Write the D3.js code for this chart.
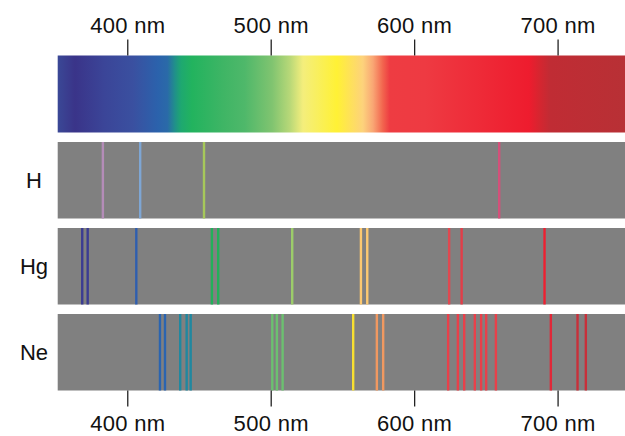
<!DOCTYPE html>
<html>
<head>
<meta charset="utf-8">
<script src="https://cdn.jsdelivr.net/npm/d3@7"></script>
<style>
  html, body { margin: 0; padding: 0; background: #fff; }
  svg { display: block; }
  text { font-family: "Liberation Sans", Arial, sans-serif; }
</style>
</head>
<body>
<svg id="chart" width="625" height="436"></svg>
<script>
// ---- data ----
const tickValues = [400, 500, 600, 700];
const tickLabels = ["400 nm", "500 nm", "600 nm", "700 nm"];
const domainNm = [351.5, 747];

// continuous spectrum colour stops (wavelength, colour)
const spectrumNm = [351.5, 363.5, 384, 404, 421.4, 428, 433.2, 437.5, 445.1, 467, 482, 501, 513.4, 522.5, 546.2, 564.3, 571.3, 578.2, 583, 607.5, 680, 688, 695, 747];
const spectrumColors = ["#3a4896", "#3a3489", "#3b4598", "#3a50a0", "#2b62ac", "#2a6aa8", "#20908a", "#1ea870", "#22b35e", "#3fb565", "#4fb86a", "#80c470", "#b8d878", "#f4ee7c", "#fff135", "#fdd27c", "#f9a674", "#f2644e", "#ee3c42", "#ee3a42", "#ee1c2e", "#d42630", "#c02c34", "#b83035"];

const elements = ["H", "Hg", "Ne"];

const hLines = [383, 409, 453.5, 659.3];
const hColors = ["#b48cb8", "#7ea6d4", "#a6c85a", "#d4507a"];

const hgLines = [368.6, 372.4, 406.3, 459.0, 463.4, 515.0, 562.9, 567.3, 624.4, 633.1, 690.9];
const hgColors = ["#3b3c92", "#3b3c92", "#2f5eae", "#22b05a", "#22b05a", "#9ccc6a", "#fcc870", "#fcc870", "#e04850", "#e23e48", "#ee2030"];

const neLines = [422.8, 426.3, 436.9, 441.4, 444.2, 501.1, 504.3, 508.3, 557.5, 574.0, 578.4, 623.7, 630.5, 634.9, 642.3, 646.7, 650.2, 657.0, 695.3, 713.9, 719.7];
const neColors = ["#2a64b0", "#2a64b0", "#2088a0", "#2088a0", "#2088a0", "#6cc070", "#6cc070", "#6cc070", "#f8e030", "#f09860", "#f09860", "#e8404a", "#e8404a", "#e8404a", "#e8404a", "#e8404a", "#e8404a", "#e8404a", "#e02838", "#c8303a", "#c8303a"];

const lineSets = [
  { lines: hLines, colors: hColors },
  { lines: hgLines, colors: hgColors },
  { lines: neLines, colors: neColors }
];

// ---- layout ----
const svg = d3.select("#chart");
const x = d3.scaleLinear().domain(domainNm).range([57.7, 625]);

const barTop = 55.5, barH = 77;
const rowTops = [142, 228, 314];
const rowH = 76.5;

// gradient
const defs = svg.append("defs");
const grad = defs.append("linearGradient")
  .attr("id", "spec")
  .attr("gradientUnits", "userSpaceOnUse")
  .attr("x1", x(domainNm[0])).attr("x2", x(domainNm[1]))
  .attr("y1", 0).attr("y2", 0);
const span = x(domainNm[1]) - x(domainNm[0]);
grad.selectAll("stop")
  .data(spectrumNm)
  .join("stop")
  .attr("offset", d => (x(d) - x(domainNm[0])) / span)
  .attr("stop-color", (d, i) => spectrumColors[i]);

svg.append("rect")
  .attr("x", x(domainNm[0]))
  .attr("y", barTop)
  .attr("width", span)
  .attr("height", barH)
  .attr("fill", "url(#spec)");

// element rows
const rows = svg.selectAll("g.row")
  .data(elements)
  .join("g")
  .attr("class", "row")
  .attr("transform", (d, i) => `translate(0,${rowTops[i]})`);

rows.append("rect")
  .attr("x", x(domainNm[0]))
  .attr("y", 0)
  .attr("width", span)
  .attr("height", rowH)
  .attr("fill", "#808080");

rows.each(function(d, i) {
  const set = lineSets[i];
  d3.select(this).selectAll("line.em")
    .data(set.lines)
    .join("line")
    .attr("class", "em")
    .attr("x1", v => x(v)).attr("x2", v => x(v))
    .attr("y1", 0).attr("y2", rowH)
    .attr("stroke", (v, j) => set.colors[j])
    .attr("stroke-width", 2.4);
});

rows.append("text")
  .attr("x", 34)
  .attr("y", rowH / 2)
  .attr("dy", "0.36em")
  .attr("text-anchor", "middle")
  .attr("font-size", 22)
  .attr("fill", "#111")
  .text(d => d);

// axes
const fmt = (d) => tickLabels[tickValues.indexOf(d)];

const topAxis = d3.axisTop(x).tickValues(tickValues).tickFormat(fmt).tickSize(16).tickPadding(7);
const gTop = svg.append("g").attr("transform", `translate(0,${barTop})`).call(topAxis);

const botAxis = d3.axisBottom(x).tickValues(tickValues).tickFormat(fmt).tickSize(16).tickPadding(9);
const gBot = svg.append("g").attr("transform", `translate(0,${rowTops[2] + rowH})`).call(botAxis);

[gTop, gBot].forEach(g => {
  g.select(".domain").remove();
  g.selectAll(".tick line").attr("stroke", "#222").attr("stroke-width", 1.3);
  g.selectAll(".tick text")
    .attr("font-family", "'Liberation Sans', Arial, sans-serif")
    .attr("font-size", 22)
    .attr("letter-spacing", 0.3)
    .attr("fill", "#111");
});
</script>
</body>
</html>
